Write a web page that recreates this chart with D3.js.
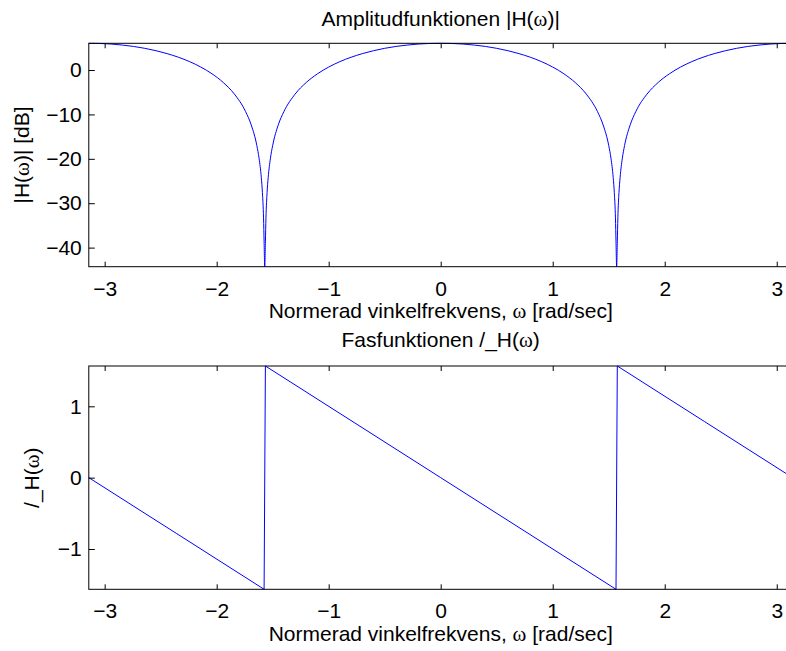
<!DOCTYPE html>
<html>
<head>
<meta charset="utf-8">
<script src="https://cdn.jsdelivr.net/npm/d3@7"></script>
<style>
  body { margin: 0; background: #fff; }
  svg { display: block; font-family: "Liberation Sans", Arial, sans-serif; }
  .lbl { font-size: 21px; fill: #000; }
</style>
</head>
<body>
<div id="chart"></div>
<script>
// omega [rad] and |H| [dB]
var magOmega = [-3.1416, -3.0416, -2.9416, -2.8416, -2.7416, -2.6416, -2.5416, -2.4416, -2.3416, -2.2416,
    -2.1416, -2.0416, -1.9416, -1.8416, -1.7416, -1.6916, -1.6416, -1.6216, -1.6016, -1.5916,
    -1.5816, -1.5766, -1.5708, -1.5650, -1.5600, -1.5500, -1.5400, -1.5200, -1.5000, -1.4500,
    -1.4000, -1.3000, -1.2000, -1.1000, -1.0000, -0.9000, -0.8000, -0.7000, -0.6000, -0.5000,
    -0.4000, -0.3000, -0.2000, -0.1000, 0.0000, 0.1000, 0.2000, 0.3000, 0.4000, 0.5000,
    0.6000, 0.7000, 0.8000, 0.9000, 1.0000, 1.1000, 1.2000, 1.3000, 1.4000, 1.4500,
    1.5000, 1.5200, 1.5400, 1.5500, 1.5600, 1.5650, 1.5708, 1.5766, 1.5816, 1.5916,
    1.6016, 1.6216, 1.6416, 1.6916, 1.7416, 1.8416, 1.9416, 2.0416, 2.1416, 2.2416,
    2.3416, 2.4416, 2.5416, 2.6416, 2.7416, 2.8416, 2.9416, 3.0416, 3.1416];
var magDb = [6.02, 5.98, 5.85, 5.62, 5.31, 4.89, 4.35, 3.69, 2.88, 1.89,
    0.67, -0.85, -2.80, -5.43, -9.37, -12.36, -16.99, -19.86, -24.21, -27.62,
    -33.31, -38.71, -44.30, -38.71, -33.31, -27.62, -24.21, -19.86, -16.99, -12.36,
    -9.37, -5.43, -2.80, -0.85, 0.67, 1.89, 2.88, 3.69, 4.35, 4.89,
    5.31, 5.62, 5.85, 5.98, 6.02, 5.98, 5.85, 5.62, 5.31, 4.89,
    4.35, 3.69, 2.88, 1.89, 0.67, -0.85, -2.80, -5.43, -9.37, -12.36,
    -16.99, -19.86, -24.21, -27.62, -33.31, -38.71, -44.30, -38.71, -33.31, -27.62,
    -24.21, -19.86, -16.99, -12.36, -9.37, -5.43, -2.80, -0.85, 0.67, 1.89,
    2.88, 3.69, 4.35, 4.89, 5.31, 5.62, 5.85, 5.98, 6.02];

// omega [rad] and phase [rad]
var phaseOmega = [-3.1416, -2.3562, -1.5766, -1.5650, 0.0000, 1.5650, 1.5766, 2.3562, 3.1416];
var phaseRad = [0.000, -0.785, -1.565, 1.565, 0.000, -1.565, 1.565, 0.785, 0.000];

var xTicks = [-3, -2, -1, 0, 1, 2, 3];
var magTicks = [-40, -30, -20, -10, 0];
var phaseTicks = [-1, 0, 1];

var width = 786, height = 651;
var left = 88.8, right = 792.6;
var fontSize = 21;

function fmt(v) { return v < 0 ? "\u2212" + Math.abs(v) : String(v); }

var svg = d3.select("#chart").append("svg")
    .attr("width", width)
    .attr("height", height);

var x = d3.scaleLinear().domain([-Math.PI, Math.PI]).range([left, right]);

function styleAxis(a) {
    a.select(".domain").remove();
    a.attr("font-family", null).attr("font-size", fontSize);
    a.selectAll(".tick line").attr("stroke", "#000");
    a.selectAll(".tick text").attr("fill", "#000");
}

function panel(opt) {
    var y = d3.scaleLinear().domain(opt.domain).range([opt.bottom, opt.top]);
    var g = svg.append("g");

    var data = opt.xs.map(function(d, i) { return [d, opt.ys[i]]; });
    var line = d3.line()
        .x(function(d) { return x(d[0]); })
        .y(function(d) { return y(d[1]); })
        .curve(opt.curve);

    g.append("path")
        .datum(data)
        .attr("fill", "none")
        .attr("stroke", "#0000ff")
        .attr("stroke-width", 1)
        .attr("d", line);

    // ticks pointing inward on all four sides
    g.append("g").attr("transform", "translate(0," + opt.bottom + ")")
        .call(d3.axisBottom(x).tickValues(xTicks).tickFormat(fmt).tickSizeInner(-5).tickSizeOuter(0).tickPadding(14))
        .call(styleAxis);
    g.append("g").attr("transform", "translate(0," + opt.top + ")")
        .call(d3.axisTop(x).tickValues(xTicks).tickFormat("").tickSizeInner(-5).tickSizeOuter(0))
        .call(styleAxis);
    g.append("g").attr("transform", "translate(" + left + ",0)")
        .call(d3.axisLeft(y).tickValues(opt.ticks).tickFormat(fmt).tickSizeInner(-6).tickSizeOuter(0).tickPadding(7))
        .call(styleAxis);
    g.append("g").attr("transform", "translate(" + right + ",0)")
        .call(d3.axisRight(y).tickValues(opt.ticks).tickFormat("").tickSizeInner(-6).tickSizeOuter(0))
        .call(styleAxis);

    g.append("rect")
        .attr("x", left).attr("y", opt.top)
        .attr("width", right - left).attr("height", opt.bottom - opt.top)
        .attr("fill", "none").attr("stroke", "#000").attr("stroke-width", 1);

    var t = g.append("text").attr("class", "lbl").attr("text-anchor", "middle")
        .attr("x", x(0)).attr("y", opt.titleY);
    opt.title(t);

    var xl = g.append("text").attr("class", "lbl").attr("text-anchor", "middle")
        .attr("x", x(0)).attr("y", opt.bottom + 51.5);
    xl.append("tspan").text("Normerad vinkelfrekvens, ");
    xl.append("tspan").attr("font-family", "Liberation Serif, serif").text("\u03c9");
    xl.append("tspan").text(" [rad/sec]");

    var yl = g.append("text").attr("class", "lbl").attr("text-anchor", "middle")
        .attr("transform", "translate(" + opt.ylabX + "," + ((opt.top + opt.bottom) / 2) + ") rotate(-90)");
    opt.ylab(yl);
}

function hw(sel, pre, post) {
    sel.append("tspan").text(pre + "H(");
    sel.append("tspan").attr("font-family", "Liberation Serif, serif").text("\u03c9");
    sel.append("tspan").text(")" + post);
}

panel({
    top: 43.3, bottom: 266.7,
    domain: [-44.3, 6.02],
    xs: magOmega, ys: magDb, ticks: magTicks,
    curve: d3.curveMonotoneX,
    titleY: 25.7, ylabX: 29,
    title: function(t) { t.append("tspan").text("Amplitudfunktionen "); hw(t, "|", "|"); },
    ylab: function(t) { hw(t, "|", "| [dB]"); }
});

panel({
    top: 366, bottom: 589.3,
    domain: [-1.565, 1.565],
    xs: phaseOmega, ys: phaseRad, ticks: phaseTicks,
    curve: d3.curveLinear,
    titleY: 347, ylabX: 39,
    title: function(t) { t.append("tspan").text("Fasfunktionen "); hw(t, "/_", ""); },
    ylab: function(t) { hw(t, "/_", ""); }
});
</script>
</body>
</html>
